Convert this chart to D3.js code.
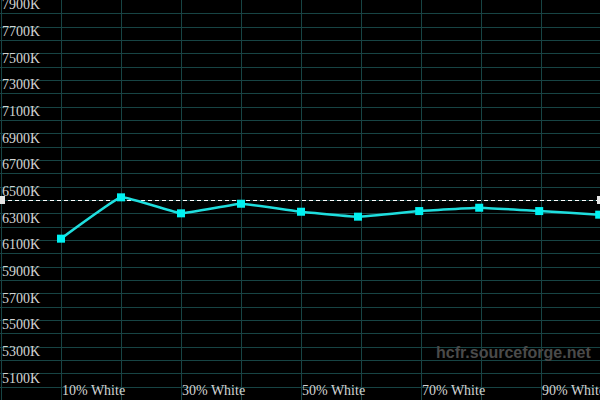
<!DOCTYPE html>
<html><head><meta charset="utf-8">
<script src="https://cdn.jsdelivr.net/npm/d3@7"></script>
<style>html,body{margin:0;padding:0;background:#000;}svg{display:block;}</style>
</head><body>
<svg id="c" width="600" height="400"></svg>
<script>
const xValues = [10, 20, 30, 40, 50, 59.5, 69.7, 79.7, 89.7, 99.7];
const tempValues = [6210, 6520, 6400, 6472, 6412, 6375, 6417, 6442, 6417, 6390];
const xTickValues = [10, 20, 30, 40, 50, 60, 70, 80, 90];
const xTickLabels = ["10% White", "30% White", "50% White", "70% White", "90% White"];
const xLabelPositions = [10, 30, 50, 70, 90];
const yGridValues = d3.range(5100, 8000, 100);
const yLabelValues = [7900, 7700, 7500, 7300, 7100, 6900, 6700, 6500, 6300, 6100, 5900, 5700, 5500, 5300, 5100];
const referenceTemp = 6500;

const W = 600, H = 400;
const svg = d3.select("#c");
svg.append("rect").attr("width", W).attr("height", H).attr("fill", "#000");

const x = d3.scaleLinear().domain([0, 100]).range([1, 601]);
const y = d3.scaleLinear().domain([5000, 8000]).range([400, 0]);

const gridColor = "#174444";
svg.append("g").selectAll("line").data([0].concat(xTickValues)).join("line")
  .attr("x1", d => Math.round(x(d)) + 0.5).attr("x2", d => Math.round(x(d)) + 0.5)
  .attr("y1", 0).attr("y2", H)
  .attr("stroke", gridColor).attr("stroke-width", 1);
svg.append("g").selectAll("line").data(yGridValues).join("line")
  .attr("x1", 0).attr("x2", W)
  .attr("y1", d => Math.round(y(d)) + 0.5).attr("y2", d => Math.round(y(d)) + 0.5)
  .attr("stroke", gridColor).attr("stroke-width", 1);

svg.append("g").selectAll("text").data(yLabelValues).join("text")
  .attr("x", 2).attr("y", d => y(d) - 4)
  .attr("fill", "#d4d4d4")
  .attr("font-family", "'Liberation Serif', 'DejaVu Serif', serif")
  .attr("font-size", 14)
  .text(d => d + "K");

svg.append("g").selectAll("text").data(xLabelPositions).join("text")
  .attr("x", d => x(d) + 1).attr("y", 395)
  .attr("fill", "#d4d4d4")
  .attr("font-family", "'Liberation Serif', 'DejaVu Serif', serif")
  .attr("font-size", 14)
  .text((d, i) => xTickLabels[i]);

svg.append("text").attr("x", 436).attr("y", 358)
  .attr("fill", "#4a4a4a")
  .attr("font-family", "'Liberation Sans', Arial, sans-serif")
  .attr("font-weight", "bold").attr("font-size", 16)
  .text("hcfr.sourceforge.net");

svg.append("line")
  .attr("x1", x(0)).attr("x2", x(100))
  .attr("y1", Math.round(y(referenceTemp)) + 0.5).attr("y2", Math.round(y(referenceTemp)) + 0.5)
  .attr("stroke", "#ffffff").attr("stroke-width", 1).attr("stroke-dasharray", "4,3");
svg.append("g").selectAll("rect").data([0, 100]).join("rect")
  .attr("x", d => x(d) - 4).attr("y", y(referenceTemp) - 4)
  .attr("width", 8).attr("height", 8).attr("fill", "#e6e6e6");

const data = xValues.map((v, i) => ({ x: v, t: tempValues[i] }));
const line = d3.line().x(d => x(d.x)).y(d => y(d.t)).curve(d3.curveCardinal.tension(0.75));
svg.append("path").datum(data).attr("d", line)
  .attr("fill", "none").attr("stroke", "#1fdede").attr("stroke-width", 2.5);
svg.append("g").selectAll("rect").data(data).join("rect")
  .attr("x", d => x(d.x) - 4).attr("y", d => y(d.t) - 4)
  .attr("width", 8).attr("height", 8).attr("fill", "#00f2f2");
</script>
</body></html>
